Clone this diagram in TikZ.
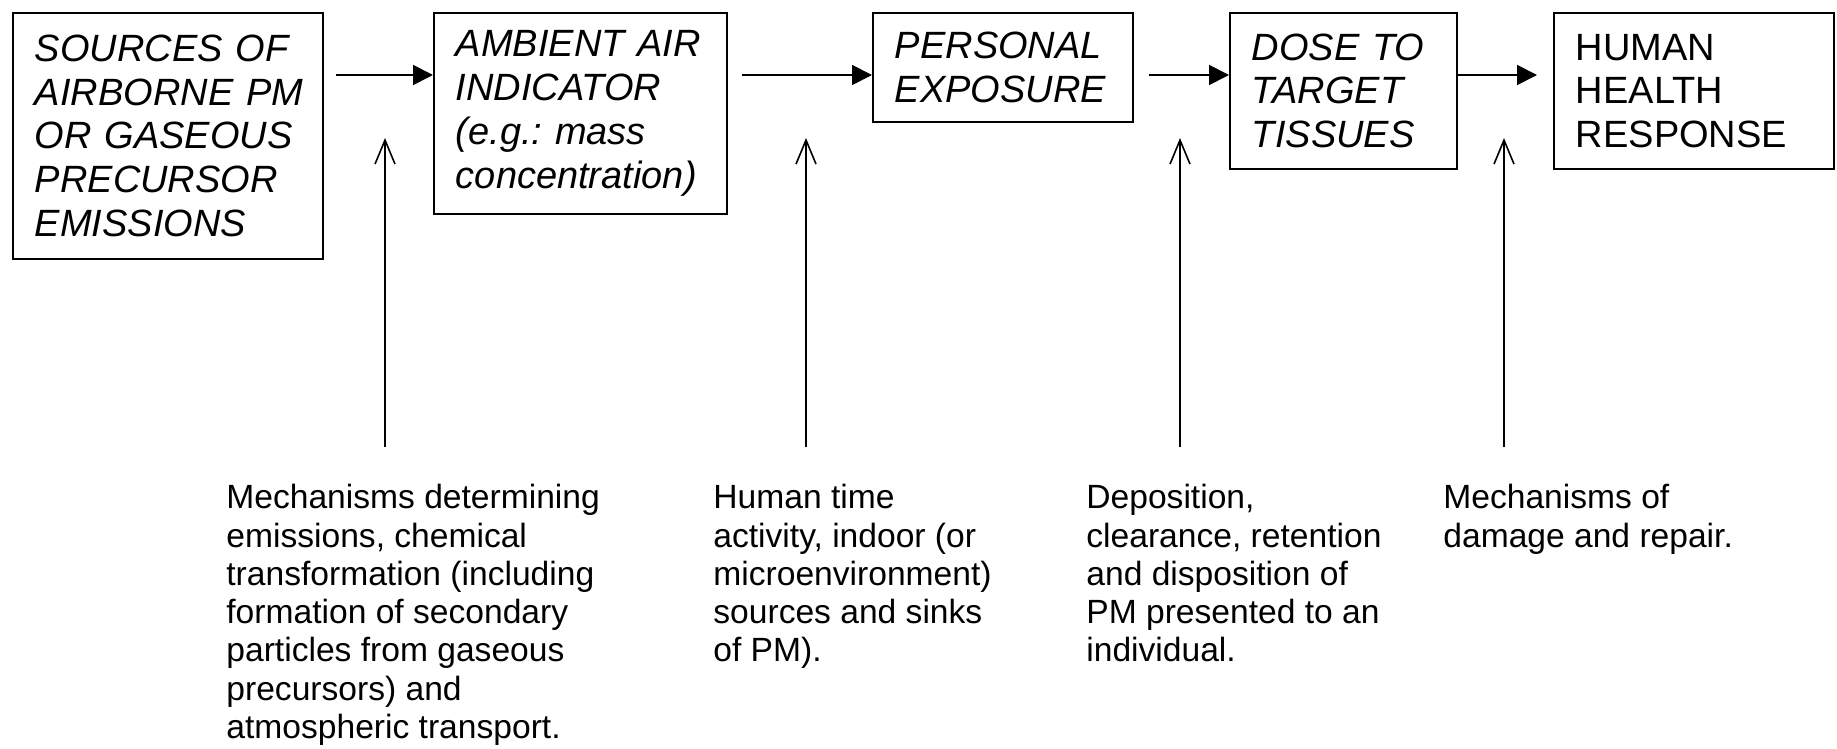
\documentclass[tikz,border=0pt]{standalone}
\usepackage{fontspec}
\setmainfont{Liberation Sans}
\usetikzlibrary{arrows.meta}
\newcommand\boxfont{\fontsize{19pt}{21.85pt}\selectfont}
\newcommand\notefont{\fontsize{16.8pt}{19.15pt}\selectfont}
\begin{document}
\begin{tikzpicture}[x=0.5pt,y=-0.5pt,
  box/.style={draw, line width=0.9pt, anchor=north west, align=left,
    inner xsep=11pt, inner ysep=0pt, font=\boxfont},
  itbox/.style={box, font=\boxfont\itshape},
  note/.style={anchor=north west, align=left, inner sep=0pt, font=\notefont},
  flow/.style={line width=0.9pt, -{Triangle[length=10pt,width=10pt]}},
  influence/.style={line width=0.8pt, -{Straight Barb[length=12pt,width=10pt]}}]
\useasboundingbox (0,0) rectangle (1837,749);
% boxes
\node[itbox, text width=133pt, minimum height=123pt] (src) at (12,12)
  {SOURCES~OF\\AIRBORNE~PM\\OR~GASEOUS\\PRECURSOR\\EMISSIONS};
\node[itbox, text width=124.5pt, minimum height=100.5pt] (amb) at (433,12)
  {AMBIENT~AIR\\INDICATOR\\(e.g.:~mass\\concentration)};
\node[itbox, text width=108pt, minimum height=54.5pt] (exp) at (872,12)
  {PERSONAL\\EXPOSURE};
\node[itbox, text width=91.5pt, minimum height=78pt] (dose) at (1229,12)
  {DOSE~TO\\TARGET\\TISSUES};
\node[box, text width=118pt, minimum height=78pt] (resp) at (1553,12)
  {HUMAN\\HEALTH\\RESPONSE};
% flow arrows
\draw[flow, shorten <=6pt] (src.east |- 0,75) -- (amb.west |- 0,75);
\draw[flow, shorten <=7pt] (amb.east |- 0,75) -- (exp.west |- 0,75);
\draw[flow, shorten <=7.5pt] (exp.east |- 0,75) -- (dose.west |- 0,75);
\draw[flow, shorten >=8pt] (dose.east |- 0,75) -- (resp.west |- 0,75);
% notes
\node[note] (n1) at (226,484) {Mechanisms determining\\emissions, chemical\\transformation (including\\formation of secondary\\particles from gaseous\\precursors) and\\atmospheric transport.};
\node[note] (n2) at (713,484) {Human time\\activity, indoor (or\\microenvironment)\\sources and sinks\\of PM).};
\node[note] (n3) at (1086,484) {Deposition,\\clearance, retention\\and disposition of\\PM presented to an\\individual.};
\node[note] (n4) at (1443,484) {Mechanisms of\\damage and repair.};
% influence arrows
\coordinate (t1) at (385,138);
\coordinate (t2) at (806,138);
\coordinate (t3) at (1180,138);
\coordinate (t4) at (1504,138);
\draw[influence, shorten <=18.5pt] (n1.north -| t1) -- (t1);
\draw[influence, shorten <=18.5pt] (n2.north -| t2) -- (t2);
\draw[influence, shorten <=18.5pt] (n3.north -| t3) -- (t3);
\draw[influence, shorten <=18.5pt] (n4.north -| t4) -- (t4);
\end{tikzpicture}
\end{document}
